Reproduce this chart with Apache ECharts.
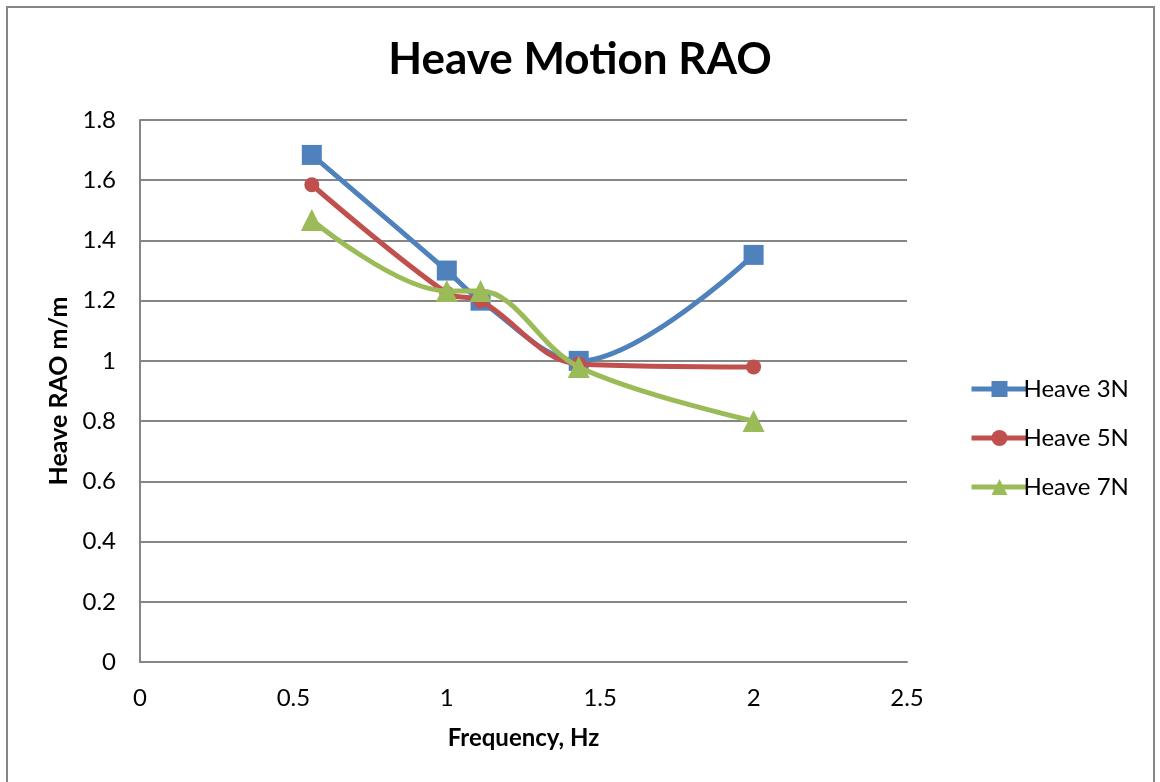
<!DOCTYPE html>
<html>
<head>
<meta charset="utf-8">
<script src="https://cdn.jsdelivr.net/npm/echarts@6/dist/echarts.min.js"></script>
<style>
html,body{margin:0;padding:0;background:#fff;}
#chart{width:1160px;height:782px;}
</style>
</head>
<body>
<div id="chart"></div>
<script>
const titleText = 'Heave Motion RAO';
const xAxisName = 'Frequency, Hz';
const yAxisName = 'Heave RAO m/m';
const seriesNames = ['Heave 3N', 'Heave 5N', 'Heave 7N'];
const freq = [0.56, 1.0, 1.11, 1.43, 2.0];
const heave3N = [1.684, 1.30, 1.20, 1.00, 1.352];
const heave5N = [1.585, 1.225, 1.20, 0.99, 0.98];
const heave7N = [1.468, 1.232, 1.232, 0.98, 0.80];
const xTicks = [0, 0.5, 1, 1.5, 2, 2.5];
const yTicks = [0, 0.2, 0.4, 0.6, 0.8, 1, 1.2, 1.4, 1.6, 1.8];

const colors = ['#4F81BD', '#C0504D', '#9BBB59'];
const symbols = ['rect', 'circle', 'triangle'];
const sizes = [20, 15, 22];
const values = [heave3N, heave5N, heave7N];
const font = 'Lato, "Liberation Sans", sans-serif';

const chart = echarts.init(document.getElementById('chart'), null, {renderer: 'canvas'});
chart.setOption({
  backgroundColor: '#fff',
  animation: false,
  title: {
    text: titleText,
    left: 'center',
    top: 33,
    textStyle: {fontFamily: font, fontSize: 44, fontWeight: 'bold', color: '#000'}
  },
  grid: {left: 140, right: 253, top: 120, bottom: 120, containLabel: false},
  legend: {
    orient: 'vertical',
    left: 964,
    top: 372,
    itemGap: 25,
    itemWidth: 56,
    itemHeight: 20,
    lineStyle: {width: 5},
    textStyle: {fontFamily: font, fontSize: 24, color: '#000', padding: [0, 0, 0, -9]},
    data: seriesNames
  },
  xAxis: {
    type: 'value',
    min: 0, max: 2.5, interval: 0.5,
    name: xAxisName,
    nameLocation: 'middle',
    nameGap: 64,
    nameTextStyle: {fontFamily: font, fontSize: 24, fontWeight: 'bold', color: '#000'},
    axisLine: {show: true, lineStyle: {color: '#868686', width: 2}},
    axisTick: {show: false},
    splitLine: {show: false},
    axisLabel: {fontFamily: font, fontSize: 24, color: '#000', margin: 24,
      formatter: v => xTicks.includes(v) ? String(v) : ''}
  },
  yAxis: {
    type: 'value',
    min: 0, max: 1.8, interval: 0.2,
    name: yAxisName,
    nameLocation: 'middle',
    nameGap: 68,
    nameTextStyle: {fontFamily: font, fontSize: 25, fontWeight: 'bold', color: '#000'},
    axisLine: {show: true, lineStyle: {color: '#868686', width: 2}},
    axisTick: {show: false},
    splitLine: {show: true, lineStyle: {color: '#868686', width: 2}},
    axisLabel: {fontFamily: font, fontSize: 24, color: '#000', margin: 24,
      formatter: v => { const t = yTicks.find(k => Math.abs(k - v) < 1e-9); return t === undefined ? '' : String(t); }}
  },
  graphic: [{
    type: 'rect',
    shape: {x: 7, y: 7, width: 1147, height: 790},
    style: {fill: 'none', stroke: '#868686', lineWidth: 2},
    silent: true
  }],
  series: seriesNames.map((name, i) => ({
    name: name,
    type: 'line',
    smooth: 0.35,
    data: freq.map((f, j) => [f, values[i][j]]),
    symbol: symbols[i],
    symbolSize: sizes[i],
    showAllSymbol: true,
    lineStyle: {color: colors[i], width: 5},
    itemStyle: {color: colors[i]},
    z: 3 + i
  }))
});
</script>
</body>
</html>
